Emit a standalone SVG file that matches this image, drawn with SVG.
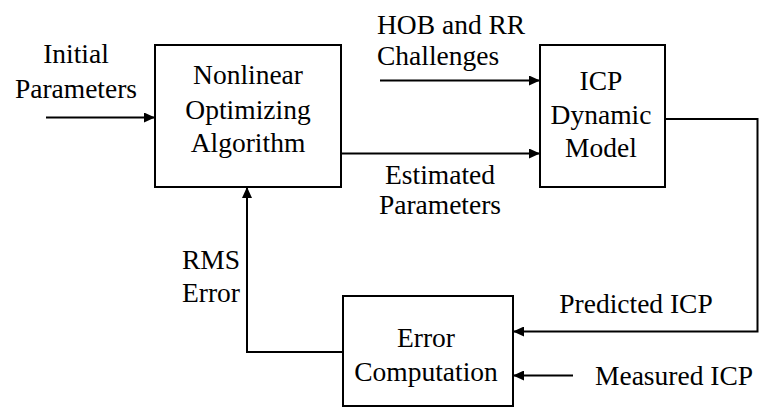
<svg xmlns="http://www.w3.org/2000/svg" width="759" height="408" viewBox="0 0 759 408">
<style>
  .box { fill: #ffffff; stroke: #000000; stroke-width: 2; }
  .wire { fill: none; stroke: #000000; stroke-width: 2; }
  .c { text-anchor: middle; }
</style>
<defs>
  <marker id="arr" markerWidth="12" markerHeight="10" refX="11" refY="5" orient="auto" markerUnits="userSpaceOnUse">
    <path d="M0,0 L11,5 L0,10 Z" fill="#000000"/>
  </marker>
</defs>
<rect width="759" height="408" fill="#ffffff"/>

<g id="connectors">
  <line class="wire" x1="46" y1="117.5" x2="155" y2="117.5" marker-end="url(#arr)"/>
  <line class="wire" x1="380" y1="80.5" x2="540" y2="80.5" marker-end="url(#arr)"/>
  <line class="wire" x1="341" y1="153.5" x2="540" y2="153.5" marker-end="url(#arr)"/>
  <polyline class="wire" points="665,119 757.5,119 757.5,331.5 513,331.5" marker-end="url(#arr)"/>
  <line class="wire" x1="573" y1="375.5" x2="513" y2="375.5" marker-end="url(#arr)"/>
  <polyline class="wire" points="343,352 247,352 247,187" marker-end="url(#arr)"/>
</g>

<g font-family="Liberation Serif, DejaVu Serif, serif" font-size="27.5" fill="#000000">
<g id="labels">
  <text class="c" x="76" y="62.5">Initial</text>
  <text class="c" x="76" y="97.5">Parameters</text>
  <text x="377" y="33.5">HOB and RR</text>
  <text x="377" y="65">Challenges</text>
  <text class="c" x="440" y="183.5">Estimated</text>
  <text class="c" x="440" y="213.5">Parameters</text>
  <text x="182" y="268.5">RMS</text>
  <text x="182" y="301.5">Error</text>
  <text class="c" x="636" y="312.5">Predicted ICP</text>
  <text x="595" y="385">Measured ICP</text>
</g>

<g id="node-optimizer">
  <rect class="box" x="155" y="45" width="186" height="142"/>
  <text class="c" x="248" y="83.5">Nonlinear</text>
  <text class="c" x="248" y="118.5">Optimizing</text>
  <text class="c" x="248" y="151.5">Algorithm</text>
</g>

<g id="node-icp-model">
  <rect class="box" x="540" y="45" width="125" height="142"/>
  <text class="c" x="601" y="90">ICP</text>
  <text class="c" x="601" y="123.5">Dynamic</text>
  <text class="c" x="601" y="156.5">Model</text>
</g>

<g id="node-error">
  <rect class="box" x="343" y="296" width="170" height="110"/>
  <text class="c" x="426" y="346.5">Error</text>
  <text class="c" x="426" y="380.5">Computation</text>
</g>
</g>
</svg>
